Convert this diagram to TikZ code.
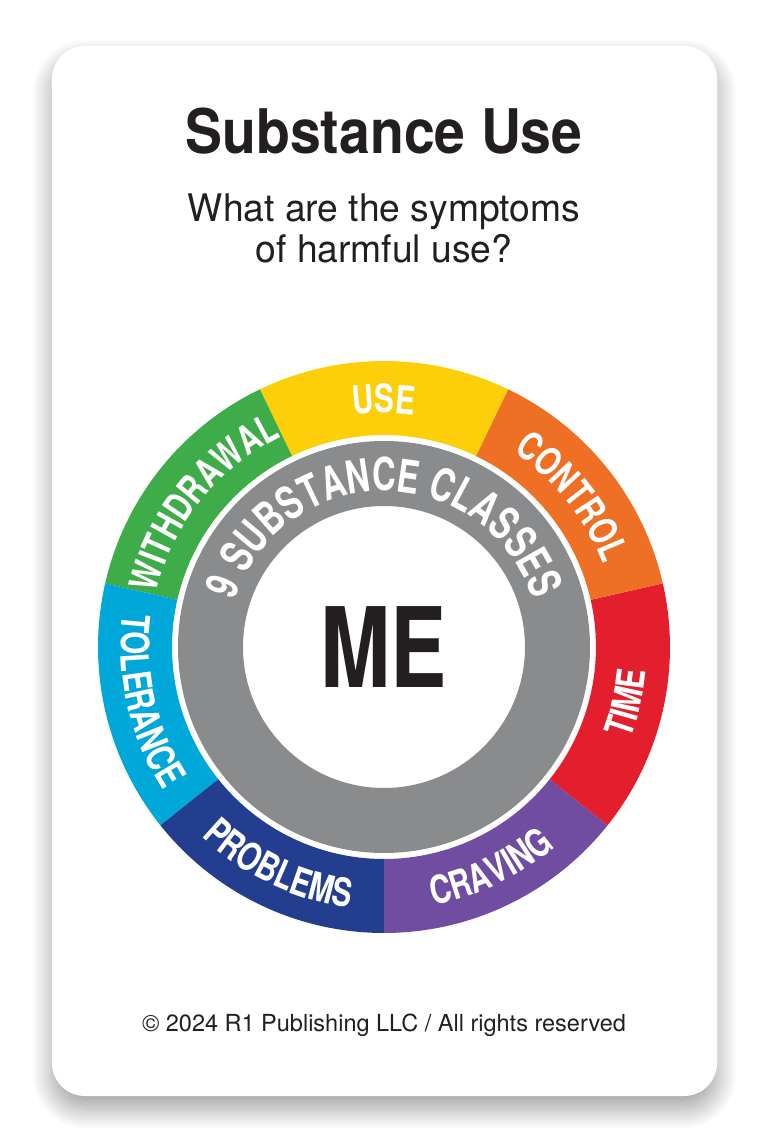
\documentclass[tikz,border=0pt]{standalone}
\usepackage{fontspec}
\usepackage{tikz}
\usetikzlibrary{decorations.text,shadows.blur}
\setmainfont{TeX Gyre Heros}
\newfontfamily\condfont[FakeStretch=0.76]{TeX Gyre Heros}
\newfontfamily\ringfam[FakeStretch=0.72]{TeX Gyre Heros}
\newfontfamily\titlefam[FakeStretch=0.9]{TeX Gyre Heros}
\newfontfamily\subfam[FakeStretch=0.98]{TeX Gyre Heros}
\definecolor{inkdark}{RGB}{35,31,32}
\definecolor{ringgrey}{RGB}{138,139,141}
\definecolor{segyellow}{RGB}{252,207,10}
\definecolor{segorange}{RGB}{239,111,36}
\definecolor{segred}{RGB}{227,30,45}
\definecolor{segpurple}{RGB}{112,77,160}
\definecolor{segnavy}{RGB}{36,62,143}
\definecolor{segcyan}{RGB}{0,168,218}
\definecolor{seggreen}{RGB}{62,172,73}
\newcommand\segfont{\condfont\bfseries\fontsize{39}{39}\selectfont}
\newcommand\ringfont{\ringfam\bfseries\fontsize{45.5}{46}\selectfont}
\tikzset{
  cardbox/.style={fill=white,rounded corners=33pt,
    blur shadow={shadow xshift=0pt,shadow yshift=-13pt,shadow blur radius=20pt,
                 shadow blur steps=30,shadow opacity=38}},
  titletxt/.style={inner sep=0pt,anchor=base,text=inkdark,
    font=\titlefam\bfseries\fontsize{61.5}{62}\selectfont},
  subtxt/.style={inner sep=0pt,anchor=base,text=inkdark,
    font=\subfam\fontsize{38}{40}\selectfont},
  foottxt/.style={inner sep=0pt,anchor=base,text=inkdark,
    font=\fontsize{23.5}{25}\selectfont},
  metxt/.style={inner sep=0pt,anchor=base,text=inkdark,
    font=\condfont\bfseries\fontsize{111}{111}\selectfont},
  ringtext/.style 2 args={decorate,decoration={text along path,text align=center,
    text color=white,text/.expanded={|\noexpand#1|#2}}},
}
\begin{document}
\begin{tikzpicture}[x=1pt,y=1pt]
  \useasboundingbox (-384,647) rectangle (385,-497);
  \path[cardbox] (-332,601) rectangle (333,-449);
  % heading
  \node[titletxt] (title) at (0,493) {Substance Use};
  \node[subtxt] (sub1) at (0,425) {What are the symptoms};
  \node[subtxt] (sub2) at (0,384) {of harmful use?};
  % outer ring, seven symptoms
  \foreach \k/\col in {0/segpurple,1/segred,2/segorange,3/segyellow,
                       4/seggreen,5/segcyan,6/segnavy}{
    \pgfmathsetmacro\a{-90+\k*360/7}
    \fill[\col] (\a:286) arc[start angle=\a,delta angle=51.4286,radius=286]
      -- ({\a+51.4286}:212) arc[start angle=\a+51.4286,delta angle=-51.4286,radius=212]
      -- cycle;}
  \foreach \m/\lab in {38.571/CONTROL,90/USE,141.429/WITHDRAWAL}
    {\path[ringtext={\segfont}{\lab}] ({\m+35}:234) arc[start angle=\m+35,delta angle=-70,radius=234];}
  \foreach \m/\lab in {-64.286/CRAVING,-12.857/TIME,192.857/TOLERANCE,244.286/PROBLEMS}
    {\path[ringtext={\segfont}{\lab}] ({\m-35}:263) arc[start angle=\m-35,delta angle=70,radius=263];}
  % inner ring
  \fill[ringgrey,even odd rule] (0,0) circle[radius=206] (0,0) circle[radius=141];
  \path[ringtext={\ringfont}{9 SUBSTANCE CLASSES}] (178:156) arc[start angle=178,end angle=2,radius=156];
  \node[metxt] (me) at (0,-40) {ME};
  % footer
  \node[foottxt] (foot) at (0,-384) {\textcopyright{} 2024 R1 Publishing LLC / All rights reserved};
\end{tikzpicture}
\end{document}
